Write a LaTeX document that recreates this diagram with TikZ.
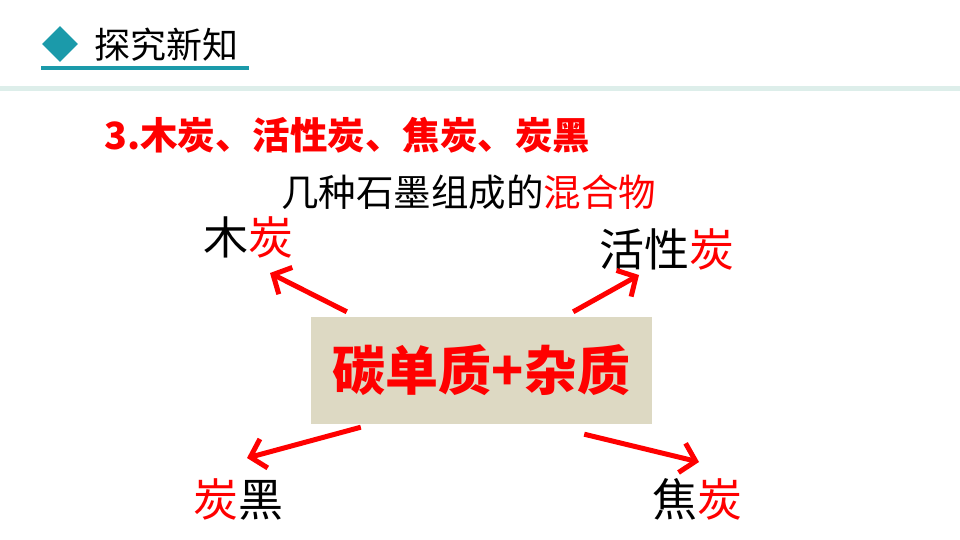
\documentclass[tikz,border=0pt]{standalone}
\usepackage{fontspec}
\setmainfont{Noto Sans CJK SC}
\usetikzlibrary{arrows.meta,positioning,shapes.geometric}
\definecolor{headteal}{HTML}{1B9AAA}
\definecolor{headline}{HTML}{DDEEEA}
\definecolor{boxtan}{HTML}{DDD9C3}
\definecolor{hot}{HTML}{FF0000}

\begin{document}
\begin{tikzpicture}[x=1pt,y=1pt,
  lbl/.style={font=\fontsize{45}{49}\selectfont,inner sep=0pt},
  arr/.style={hot,line width=5pt,-{Straight Barb[length=14pt,width=30pt]}}]
  \useasboundingbox (0,0) rectangle (960,-540);
  % header
  \node[diamond,fill=headteal,minimum width=36pt,minimum height=36pt,inner sep=0pt] (mark) at (60,-44) {};
  \node[font=\fontsize{36}{40}\selectfont,anchor=west,inner sep=0pt] (head) at (94,-45) {探究新知};
  \draw[headteal,line width=3.5pt] (41,-68) -- (249,-68);
  \draw[headline,line width=5pt] (0,-89) -- (960,-89);
  % title lines
  \node[anchor=west,text=hot,inner sep=0pt,font=\bfseries\fontsize{37.5}{41}\selectfont] (title) at (104,-135) {3.木炭、活性炭、焦炭、炭黑};
  \node[inner sep=0pt,font=\fontsize{37.5}{41}\selectfont] (sub) at (468.5,-192) {几种石墨组成的\textcolor{hot}{混合物}};
  % centre box
  \node[fill=boxtan,minimum width=341pt,minimum height=107pt,text=hot,font=\bfseries\fontsize{53}{57}\selectfont] (core) at (481.5,-370.5) {碳单质+杂质};
  % four kinds
  \node[lbl] (mt) at (248,-237) {木\textcolor{hot}{炭}};
  \node[lbl] (hx) at (667,-249) {活性\textcolor{hot}{炭}};
  \node[lbl] (th) at (238,-499) {\textcolor{hot}{炭}黑};
  \node[lbl] (jt) at (697,-499) {焦\textcolor{hot}{炭}};
  % arrow ends
  \coordinate (mt-s) at ([xshift=36pt,yshift=5pt]core.north west);
  \coordinate (mt-e) at (270,-273);
  \coordinate (hx-s) at ([xshift=-79pt,yshift=5pt]core.north east);
  \coordinate (hx-e) at (639,-275);
  \coordinate (th-s) at ([xshift=50pt,yshift=-3pt]core.south west);
  \coordinate (th-e) at (247,-458);
  \coordinate (jt-s) at ([xshift=-68pt,yshift=-10pt]core.south east);
  \coordinate (jt-e) at (699,-462);
  \foreach \n in {mt,hx,th,jt}
    \draw[arr] (\n-s) -- (\n-e);
\end{tikzpicture}
\end{document}
